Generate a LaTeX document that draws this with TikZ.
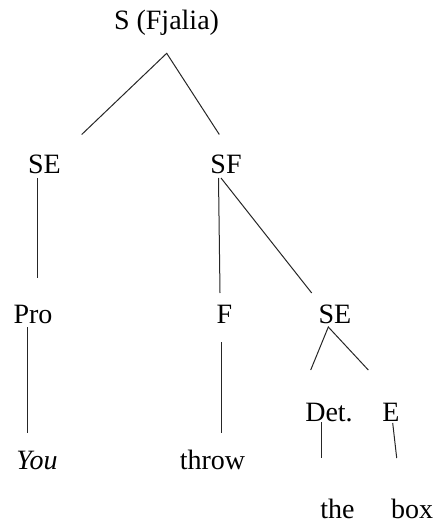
\documentclass[tikz,border=0pt]{standalone}
\usepackage{fontspec}
\setmainfont{Liberation Serif}
\begin{document}
\begin{tikzpicture}[x=1pt,y=-1pt,
  lbl/.style={anchor=base,inner sep=0pt,font=\fontsize{28}{32}\selectfont},
  edge/.style={line width=1pt,draw=black!85}]
\useasboundingbox (0,0) rectangle (437,526);
% labels
\node[lbl] (S) at (166.5,30) {S (Fjalia)};
\node[lbl] (SE) at (44.5,174) {SE};
\node[lbl] (SF) at (226,174) {SF};
\node[lbl] (Pro) at (33,323) {Pro};
\node[lbl] (F) at (224.5,323) {F};
\node[lbl] (SEb) at (335,323) {SE};
\node[lbl] (Det) at (329,421) {Det.};
\node[lbl] (E) at (391,421) {E};
\node[lbl] (You) at (37,469) {\itshape You};
\node[lbl] (throw) at (212.5,469) {throw};
\node[lbl] (the) at (337.5,518) {the};
\node[lbl] (box) at (412,518) {box};
% connector end points
\coordinate (Sd) at (166.7,53.3);
\coordinate (SEu) at (81.7,134.5);
\coordinate (SFu) at (219.3,134.5);
\coordinate (SEd) at (37.7,178);
\coordinate (Prou) at (37.7,278);
\coordinate (SFd1) at (218.5,178);
\coordinate (Fu) at (220,293);
\coordinate (SFd2) at (221,178);
\coordinate (SEbu) at (311.7,293);
\coordinate (Prod) at (27.3,327);
\coordinate (Youu) at (27.3,432.7);
\coordinate (Fd) at (221,342);
\coordinate (throwu) at (221,433);
\coordinate (SEbd) at (328.3,327);
\coordinate (Detu) at (310.7,370);
\coordinate (Eu) at (368.3,370);
\coordinate (Detd) at (321,422);
\coordinate (theu) at (321,458);
\coordinate (Ed) at (392.7,423);
\coordinate (boxu) at (396.7,458);
% connectors
\draw[edge] (SEu) -- (Sd) -- (SFu);
\draw[edge] (SEd) -- (Prou);
\draw[edge] (SFd1) -- (Fu);
\draw[edge] (SFd2) -- (SEbu);
\draw[edge] (Prod) -- (Youu);
\draw[edge] (Fd) -- (throwu);
\draw[edge] (Detu) -- (SEbd) -- (Eu);
\draw[edge] (Detd) -- (theu);
\draw[edge] (Ed) -- (boxu);
\end{tikzpicture}
\end{document}
